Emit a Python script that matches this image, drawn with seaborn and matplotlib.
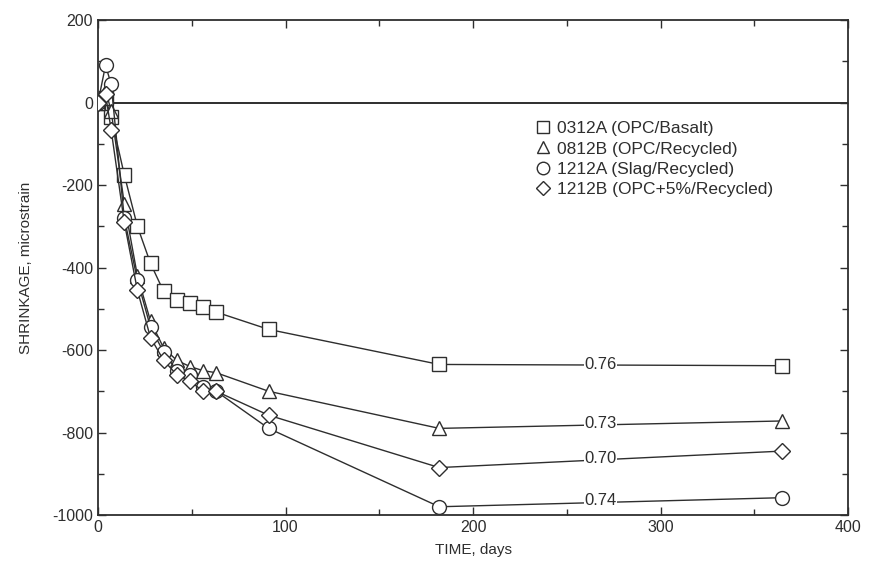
import matplotlib
matplotlib.use("Agg")
import matplotlib.pyplot as plt
from matplotlib.lines import Line2D
from matplotlib.ticker import MultipleLocator
import seaborn as sns
import pandas as pd

sns.set_style("ticks")
plt.rcParams['font.family'] = ['Liberation Sans', 'DejaVu Sans']
plt.rcParams['axes.unicode_minus'] = False

days = [0, 4, 7, 14, 21, 28, 35, 42, 49, 56, 63, 91, 182, 365]
s_0312A = [0, 10, -35, -175, -300, -390, -458, -478, -485, -495, -508, -550, -635, -638]
s_0812B = [0, 30, -20, -245, -420, -530, -595, -625, -640, -650, -655, -700, -790, -772]
s_1212A = [0, 90, 45, -280, -430, -545, -605, -650, -660, -690, -700, -790, -980, -958]
s_1212B = [0, 20, -66, -290, -455, -570, -625, -660, -675, -700, -700, -758, -885, -845]

labels = ["0312A (OPC/Basalt)", "0812B (OPC/Recycled)",
          "1212A (Slag/Recycled)", "1212B (OPC+5%/Recycled)"]
series = [s_0312A, s_0812B, s_1212A, s_1212B]
markers = ["s", "^", "o", "D"]
msizes = [10, 10, 10, 8]

ratio_text = ["0.76", "0.73", "0.74", "0.70"]
ratio_x = [268, 268, 268, 268]
ratio_y = [-636, -779, -964, -862]

ink = "#2e2e2e"

fig = plt.figure(figsize=(8.72, 5.82), dpi=100)
ax = fig.add_axes([0.1124, 0.1151, 0.8601, 0.8505])

for vals, lab, m, ms in zip(series, labels, markers, msizes):
    df = pd.DataFrame({"day": days, "val": vals})
    sns.lineplot(data=df, x="day", y="val", ax=ax, color=ink, linewidth=1.0,
                 marker=m, markersize=ms, markerfacecolor="white",
                 markeredgecolor=ink, markeredgewidth=1.0, label=lab,
                 legend=False, zorder=3)

ax.axhline(0, color=ink, linewidth=1.4, zorder=2)

for t, x, y in zip(ratio_text, ratio_x, ratio_y):
    ax.text(x, y, t, ha="center", va="center", fontsize=12, color=ink,
            bbox=dict(facecolor="white", edgecolor="none", pad=0.5), zorder=4)

ax.set_xlim(0, 400)
ax.set_ylim(-1000, 200)
ax.xaxis.set_major_locator(MultipleLocator(100))
ax.xaxis.set_minor_locator(MultipleLocator(50))
ax.yaxis.set_major_locator(MultipleLocator(200))
ax.yaxis.set_minor_locator(MultipleLocator(100))
ax.tick_params(which="both", direction="in", top=True, right=True,
               color=ink, labelcolor=ink, labelsize=11.5, width=1.0)
ax.tick_params(which="major", length=6)
ax.tick_params(which="minor", length=4)
for sp in ax.spines.values():
    sp.set_color(ink)
    sp.set_linewidth(1.3)

ax.set_xlabel("TIME, days", fontsize=11, color=ink, labelpad=6)
ax.set_ylabel("SHRINKAGE, microstrain", fontsize=11, color=ink, labelpad=14)

handles = [Line2D([], [], linestyle="none", marker=m, markersize=ms - 1,
                  markerfacecolor="white", markeredgecolor=ink, markeredgewidth=1.0)
           for m, ms in zip(markers, msizes)]
leg = ax.legend(handles, labels, loc="upper left", bbox_to_anchor=(0.575, 0.81),
                frameon=False, fontsize=12.5, handlelength=0.8, handletextpad=0.4,
                labelspacing=0.3, borderaxespad=0)
for t in leg.get_texts():
    t.set_color(ink)

fig.savefig("out.png", dpi=100, facecolor="white")
